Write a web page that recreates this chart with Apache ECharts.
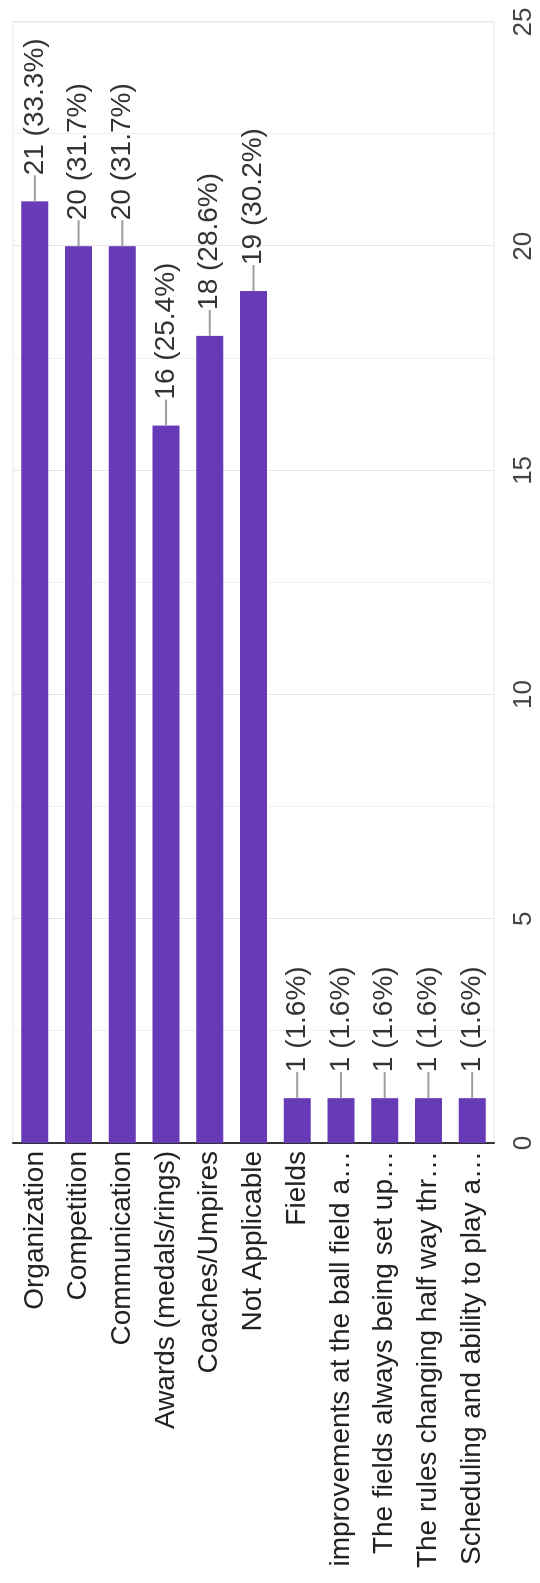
<!DOCTYPE html>
<html>
<head>
<meta charset="utf-8">
<script src="https://cdn.jsdelivr.net/npm/echarts@6/dist/echarts.min.js"></script>
<style>
html,body{margin:0;padding:0;background:#fff;overflow:hidden;width:540px;height:1583px;}
#frame{position:absolute;left:0;top:0;width:1583px;height:540px;transform-origin:0 0;transform:translateY(1583px) rotate(-90deg);}
</style>
</head>
<body>
<div id="frame"></div>
<script>
const categories = [
  "Organization",
  "Competition",
  "Communication",
  "Awards (medals/rings)",
  "Coaches/Umpires",
  "Not Applicable",
  "Fields",
  "improvements at the ball field a\u2026",
  "The fields always being set up\u2026",
  "The rules changing half way thr\u2026",
  "Scheduling and ability to play a\u2026"
];
const counts = [21, 20, 20, 16, 18, 19, 1, 1, 1, 1, 1];
const percents = ["33.3%", "31.7%", "31.7%", "25.4%", "28.6%", "30.2%", "1.6%", "1.6%", "1.6%", "1.6%", "1.6%"];
const valueMin = 0, valueMax = 25, valueStep = 2.5, labelStep = 5;

const chart = echarts.init(document.getElementById('frame'), null, {renderer: 'canvas'});
const FONT = "'Liberation Sans', Arial, sans-serif";
chart.setOption({
  animation: false,
  backgroundColor: '#ffffff',
  textStyle: {fontFamily: FONT},
  grid: {left: 440, right: 22, top: 13, bottom: 46, show: true, borderColor: '#e6e6e6', borderWidth: 1, containLabel: false},
  yAxis: {
    type: 'category',
    inverse: true,
    data: categories,
    axisTick: {show: false},
    axisLine: {show: true, lineStyle: {color: '#333333', width: 2}},
    axisLabel: {fontSize: 28, color: '#222222', margin: 8, fontFamily: FONT}
  },
  xAxis: {
    type: 'value',
    min: valueMin, max: valueMax, interval: valueStep,
    axisLine: {show: false},
    axisTick: {show: false},
    axisLabel: {
      fontSize: 26, color: '#444444', margin: 17, fontFamily: FONT,
      formatter: v => (Math.abs(v % labelStep) < 1e-9 ? String(v) : '')
    },
    splitLine: {show: true, lineStyle: {color: ['#e6e6e6', '#efefef'], width: 1}}
  },
  series: [{
    type: 'bar',
    data: counts,
    barWidth: 27,
    itemStyle: {color: '#673ab7'},
    label: {
      show: true,
      position: 'right',
      distance: 0,
      formatter: p => '{l|}{t|' + p.value + ' (' + percents[p.dataIndex] + ')}',
      rich: {
        l: {width: 26, height: 2, backgroundColor: '#9e9e9e'},
        t: {fontSize: 28, color: '#333333', fontFamily: FONT}
      }
    }
  }]
});
</script>
</body>
</html>
